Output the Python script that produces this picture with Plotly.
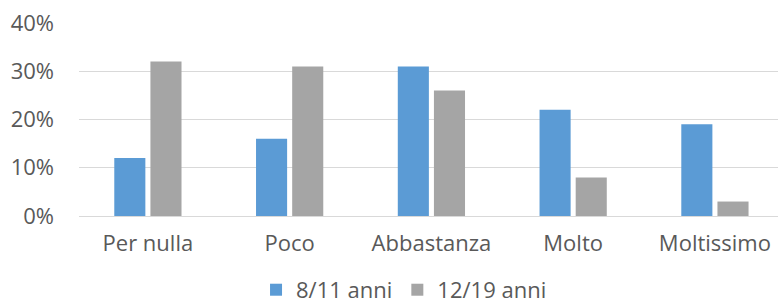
import plotly.graph_objects as go

categories = ["Per nulla", "Poco", "Abbastanza", "Molto", "Moltissimo"]
series_names = ["8/11 anni", "12/19 anni"]
values_8_11 = [12, 16, 31, 22, 19]
values_12_19 = [32, 31, 26, 8, 3]
y_ticks = [0, 10, 20, 30, 40]
y_tick_labels = ["0%", "10%", "20%", "30%", "40%"]

font_family = "Open Sans, Liberation Sans, sans-serif"
text_color = "#595959"
fs = 22

fig = go.Figure()
fig.add_trace(go.Bar(x=categories, y=values_8_11, name=series_names[0],
                     marker=dict(color="#5B9BD5", line=dict(width=0))))
fig.add_trace(go.Bar(x=categories, y=values_12_19, name=series_names[1],
                     marker=dict(color="#A5A5A5", line=dict(width=0))))

fig.update_layout(
    width=778, height=303,
    margin=dict(l=79, r=0, t=23, b=87, autoexpand=False),
    paper_bgcolor="white", plot_bgcolor="white",
    barmode="group", bargap=0.49, bargroupgap=0.14,
    font=dict(family=font_family, size=fs, color=text_color),
    showlegend=True,
    legend=dict(orientation="h", x=0.465, xanchor="center", y=-0.383, yanchor="middle",
                font=dict(size=fs, color=text_color), traceorder="normal",
                itemwidth=30),
    xaxis=dict(range=[-0.486, 4.445], showgrid=False, showline=False, ticks="",
               automargin=False, ticklabelstandoff=12,
               tickfont=dict(size=fs, color=text_color)),
    yaxis=dict(range=[0, 40], tickvals=y_ticks, ticktext=y_tick_labels,
               showgrid=True, gridcolor="#D9D9D9", gridwidth=1,
               zeroline=True, zerolinecolor="#D9D9D9", zerolinewidth=1,
               showline=False, ticks="", ticklabelstandoff=24, automargin=False,
               tickfont=dict(size=fs, color=text_color)),
)

fig.write_html("out.html", config={"displayModeBar": False},
               post_script="document.body.style.margin='0';document.body.style.overflow='hidden';")
